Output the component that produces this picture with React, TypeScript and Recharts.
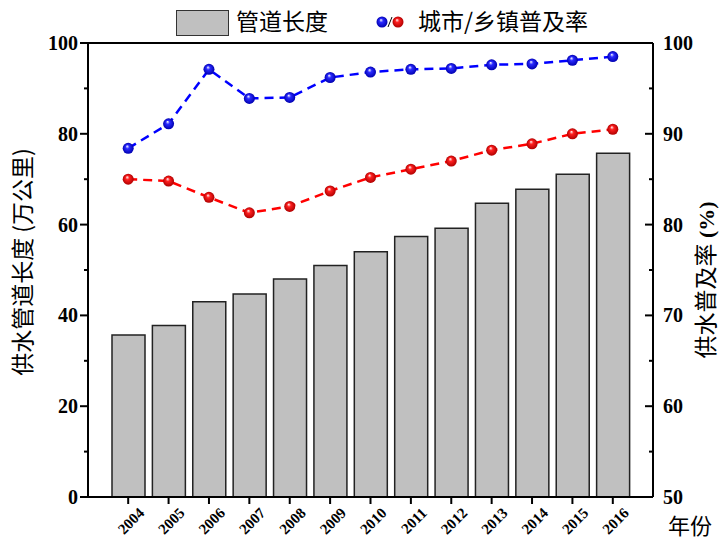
import React from "react";
import {
  ComposedChart,
  Bar,
  Line,
  XAxis,
  YAxis,
  ReferenceLine,
  Legend,
} from "recharts";

const years = ["2004", "2005", "2006", "2007", "2008", "2009", "2010", "2011", "2012", "2013", "2014", "2015", "2016"];
// 管道长度 (万公里)
const pipeLength = [35.7, 37.8, 43.0, 44.7, 48.0, 51.0, 54.0, 57.4, 59.2, 64.7, 67.8, 71.1, 75.7];
// 城市供水普及率 (%)
const cityRate = [88.4, 91.1, 97.1, 93.9, 94.0, 96.2, 96.8, 97.1, 97.2, 97.6, 97.7, 98.1, 98.5];
// 乡镇供水普及率 (%)
const townRate = [85.0, 84.8, 83.0, 81.3, 82.0, 83.7, 85.2, 86.1, 87.0, 88.2, 88.9, 90.0, 90.5];

const leftTicks = [0, 10, 20, 30, 40, 50, 60, 70, 80, 90, 100];
const rightTicks = [50, 55, 60, 65, 70, 75, 80, 85, 90, 95, 100];

const data = years.map((year, i) => ({
  year,
  pipe: pipeLength[i],
  city: cityRate[i],
  town: townRate[i],
}));

const serif = "'Liberation Serif', 'Times New Roman', serif";
const cjk = "'Noto Sans CJK SC', sans-serif";

const LeftTick = (props: any) => {
  const x = Number(props.x);
  const y = Number(props.y);
  const v = props.payload.value;
  const major = v % 20 === 0;
  return (
    <g>
      <line x1={x} x2={x - (major ? 8 : 4)} y1={y} y2={y} stroke="#000" strokeWidth={2} />
      {major && (
        <text x={x - 10} y={y} dy={7} textAnchor="end" fontFamily={serif} fontWeight="bold" fontSize={20} fill="#000">
          {v}
        </text>
      )}
    </g>
  );
};

const RightTick = (props: any) => {
  const x = Number(props.x);
  const y = Number(props.y);
  const v = props.payload.value;
  const major = v % 10 === 0;
  return (
    <g>
      <line x1={x} x2={x - (major ? 8 : 4)} y1={y} y2={y} stroke="#000" strokeWidth={2} />
      {major && (
        <text x={x + 10} y={y} dy={7} textAnchor="start" fontFamily={serif} fontWeight="bold" fontSize={20} fill="#000">
          {v}
        </text>
      )}
    </g>
  );
};

// year ticks: short mark below the axis, label slanted 45° ending right of the mark
const YearTick = (props: any) => {
  const x = Number(props.x);
  const y = Number(props.y);
  const tx = x + 17;
  const ty = y + 17;
  return (
    <g>
      <line x1={x} x2={x} y1={y} y2={y + 7} stroke="#000" strokeWidth={2} />
      <text
        x={tx}
        y={ty}
        textAnchor="end"
        transform={`rotate(-45 ${tx} ${ty})`}
        fontFamily={serif}
        fontWeight="bold"
        fontSize={15}
        fill="#000"
      >
        {props.payload.value}
      </text>
    </g>
  );
};

const Ball = (gradient: string) => (props: any) => {
  const { cx, cy, index } = props;
  if (cx == null || cy == null) return <g key={index} />;
  return <circle key={index} cx={cx} cy={cy} r={5.5} fill={`url(#${gradient})`} />;
};

const BallGradient = ({ id, mid, edge }: { id: string; mid: string; edge: string }) => (
  <radialGradient id={id} cx="50%" cy="50%" r="50%" fx="40%" fy="30%">
    <stop offset="0%" stopColor="#ffffff" />
    <stop offset="35%" stopColor={mid} />
    <stop offset="100%" stopColor={edge} />
  </radialGradient>
);

const LegendContent = () => (
  <div
    style={{
      position: "relative",
      width: 720,
      height: 40,
      fontFamily: cjk,
      fontSize: 23,
      color: "#000",
    }}
  >
    <div
      style={{
        position: "absolute",
        left: 176,
        top: 10,
        width: 51,
        height: 24,
        background: "#c0c0c0",
        border: "1.5px solid #333",
      }}
    />
    <span style={{ position: "absolute", left: 236, top: 4, lineHeight: "32px" }}>管道长度</span>
    <svg style={{ position: "absolute", left: 376, top: 12 }} width={30} height={20}>
      <defs>
        <BallGradient id="legBlue" mid="#2a2aff" edge="#0000b0" />
        <BallGradient id="legRed" mid="#ff2020" edge="#b00000" />
      </defs>
      <circle cx={6} cy={10} r={5.5} fill="url(#legBlue)" />
      <line x1={12} y1={15} x2={16} y2={5} stroke="#000" strokeWidth={1} />
      <circle cx={22} cy={10} r={5.5} fill="url(#legRed)" />
    </svg>
    <span style={{ position: "absolute", left: 418, top: 4, lineHeight: "32px" }}>城市/乡镇普及率</span>
  </div>
);

export default function App() {
  return (
    <div style={{ position: "absolute", left: 0, top: 0, width: 720, height: 540, background: "#fff" }}>
      <ComposedChart
        width={720}
        height={540}
        data={data}
        margin={{ top: 3, right: 0, bottom: 0, left: 0 }}
      >
        <defs>
          <BallGradient id="blueBall" mid="#2a2aff" edge="#0000b0" />
          <BallGradient id="redBall" mid="#ff2020" edge="#b00000" />
        </defs>
        <Legend verticalAlign="top" height={40} wrapperStyle={{ top: 0, left: 0 }} content={LegendContent} />
        <XAxis
          dataKey="year"
          xAxisId="x"
          height={43}
          padding={{ left: 20, right: 20 }}
          axisLine={{ stroke: "#000", strokeWidth: 2 }}
          tickLine={false}
          tickSize={0}
          tickMargin={0}
          tick={YearTick}
          interval={0}
          label={({ viewBox }: any) => (
            <text
              x={viewBox.x + viewBox.width + 15}
              y={viewBox.y + 37}
              fontFamily={cjk}
              fontSize={22}
              fill="#000"
            >
              年份
            </text>
          )}
        />
        <YAxis
          yAxisId="left"
          width={88}
          domain={[0, 100]}
          ticks={leftTicks}
          interval={0}
          axisLine={{ stroke: "#000", strokeWidth: 2 }}
          tickLine={false}
          tickSize={0}
          tickMargin={0}
          tick={<LeftTick />}
          label={() => (
            <text
              x={0}
              y={0}
              dy={8}
              textAnchor="middle"
              transform="translate(23, 262) rotate(-90)"
              fontFamily={cjk}
              fontSize={23}
              fill="#000"
            >
              供水管道长度 (万公里)
            </text>
          )}
        />
        <YAxis
          yAxisId="right"
          orientation="right"
          width={67}
          domain={[50, 100]}
          ticks={rightTicks}
          interval={0}
          axisLine={{ stroke: "#000", strokeWidth: 2 }}
          tickLine={false}
          tickSize={0}
          tickMargin={0}
          tick={<RightTick />}
          label={() => (
            <text
              x={0}
              y={0}
              dy={8}
              textAnchor="middle"
              transform="translate(706, 280) rotate(-90)"
              fontFamily={cjk}
              fontSize={23}
              fill="#000"
            >
              供水普及率
              <tspan fontFamily={serif} fontWeight="bold" fontSize={22}> (%)</tspan>
            </text>
          )}
        />
        <ReferenceLine yAxisId="left" xAxisId="x" y={100} stroke="#000" strokeWidth={2} />
        <Bar
          xAxisId="x"
          yAxisId="left"
          dataKey="pipe"
          barSize={33}
          fill="#c0c0c0"
          stroke="#222"
          strokeWidth={1.5}
          isAnimationActive={false}
        />
        <Line
          xAxisId="x"
          yAxisId="right"
          dataKey="city"
          stroke="#0000ff"
          strokeWidth={2.5}
          strokeDasharray="9 6"
          dot={Ball("blueBall")}
          activeDot={false}
          isAnimationActive={false}
        />
        <Line
          xAxisId="x"
          yAxisId="right"
          dataKey="town"
          stroke="#ff0000"
          strokeWidth={2.5}
          strokeDasharray="9 6"
          dot={Ball("redBall")}
          activeDot={false}
          isAnimationActive={false}
        />
      </ComposedChart>
    </div>
  );
}
